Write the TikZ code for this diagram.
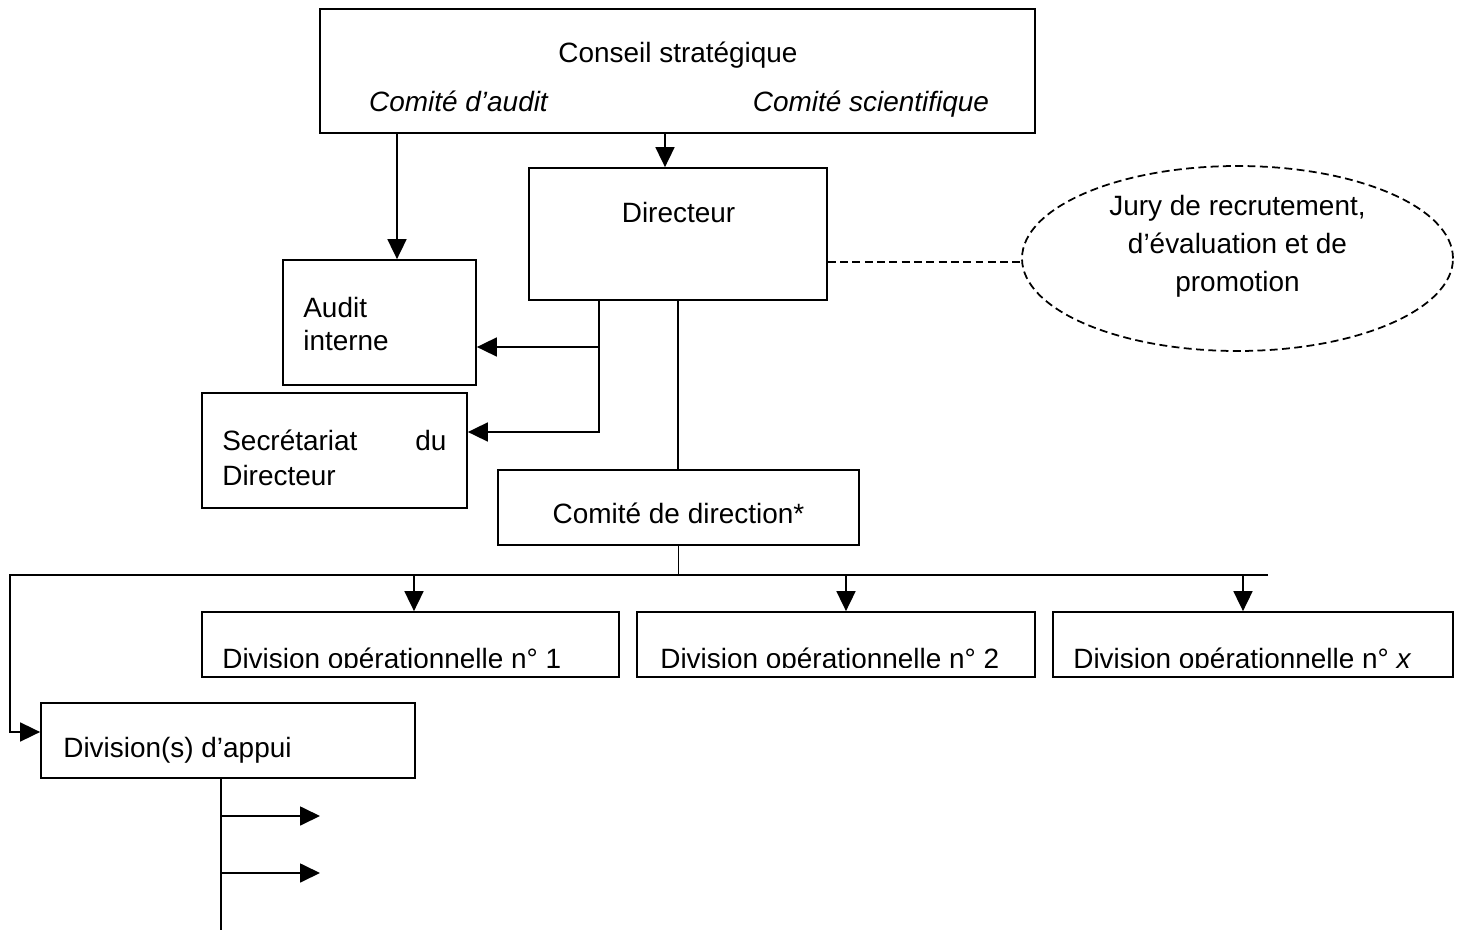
\documentclass[tikz,border=0pt]{standalone}
\usepackage{fontspec}
\setmainfont{Liberation Sans}
\usetikzlibrary{arrows.meta,positioning,shapes.geometric,calc}

\begin{document}
\begin{tikzpicture}[
        every node/.style={inner sep=0pt, font=\fontsize{15.9}{20}\selectfont},
        box/.style={draw, rectangle, line width=1pt},
        jurybox/.style={draw, ellipse, line width=1pt, dash pattern=on 4.5pt off 2.5pt},
        link/.style={line width=1pt},
        arr/.style={line width=1pt, -{Triangle[length=4mm,width=3.8mm]}}
      ]
      \useasboundingbox (0,0) rectangle (29.26,-18.62);

      % boxes
      \node[box, minimum width=14.3cm, minimum height=2.48cm] (conseil) at (13.55,-1.42) {};
      \node[box, minimum width=5.96cm, minimum height=2.64cm] (dir) at (13.56,-4.68) {};
      \node[box, minimum width=3.86cm, minimum height=2.5cm] (audit) at (7.59,-6.45) {};
      \node[box, minimum width=5.3cm, minimum height=2.3cm] (secr) at (6.69,-9.01) {};
      \node[box, minimum width=7.22cm, minimum height=1.5cm] (comite) at (13.57,-10.15) {};
      \node[box, minimum width=8.34cm, minimum height=1.3cm] (div1) at (8.21,-12.89) {};
      \node[box, minimum width=7.96cm, minimum height=1.3cm] (div2) at (16.72,-12.89) {};
      \node[box, minimum width=8cm, minimum height=1.3cm] (divx) at (25.06,-12.89) {};
      \node[box, minimum width=7.48cm, minimum height=1.5cm] (appui) at (4.56,-14.81) {};
      \node[jurybox, minimum width=8.62cm, minimum height=3.7cm] (jury) at (24.75,-5.17) {};

      % texts
      \node[anchor=base] (cstrat) at (13.56,-1.26) {Conseil stratégique};
      \node[anchor=base] (caudit) at (9.18,-2.24) {\textit{Comité d’audit}};
      \node[anchor=base] (csci) at (17.42,-2.24) {\textit{Comité scientifique}};
      \node[anchor=base] (dirtxt) at (13.57,-4.44) {Directeur};
      \node[anchor=base west] (audit1) at (6.06,-6.34) {Audit};
      \node[anchor=base west] (audit2) at (6.06,-7.0) {interne};
      \node[anchor=base west] (secr1) at (4.44,-9.0) {\makebox[4.48cm][l]{Secrétariat\hfill du}};
      \node[anchor=base west] (secr2) at (4.44,-9.7) {Directeur};
      \node[anchor=base] (comtxt) at (13.57,-10.46) {Comité de direction*};
      \node[align=center, font=\fontsize{15.9}{21.6}\selectfont] (jurytxt) at (24.75,-4.92)
        {Jury de recrutement,\\d’évaluation et de\\promotion};
      \node[anchor=base west] (appuitxt) at (1.26,-15.14) {Division(s) d’appui};
      \foreach \d/\x/\n in {div1/4.44/1, div2/13.2/2, divx/21.46/{\textit{x}}} {
        \begin{scope}
          \clip (\d.north west) rectangle ([yshift=0.2cm]\d.south east);
          \node[anchor=base west] (\d-txt) at (\x,-13.36) {Division opérationnelle n° \n};
        \end{scope}
      }

      % connectors
      \coordinate (t1) at ([xshift=0.35cm]audit.north);
      \coordinate (t2) at ([xshift=-0.26cm]dir.north);
      \coordinate (t3) at ([yshift=-0.56cm]dir.east);
      \coordinate (t4) at ([xshift=-1.58cm]dir.south);
      \coordinate (pa) at ([yshift=-0.49cm]audit.east);
      \coordinate (ps) at ([yshift=0.37cm]secr.east);
      \coordinate (bus) at ([yshift=-0.6cm]comite.south);
      \coordinate (busL) at (0.2,-11.5);
      \coordinate (busR) at (25.36,-11.5);
      \coordinate (pw) at ([yshift=0.17cm]appui.west);
      \coordinate (v0) at ([xshift=-0.14cm]appui.south);
      \coordinate (vend) at (4.42,-18.6);
      \coordinate (h1) at (6.4,-16.32);
      \coordinate (h2) at (6.4,-17.46);

      \draw[arr] (t1 |- conseil.south) -- (t1);
      \draw[arr] (t2 |- conseil.south) -- (t2);
      \draw[link, dash pattern=on 4.5pt off 2.5pt] (t3) -- (t3 -| jury.west);
      \draw[arr] (t4) |- (ps);
      \draw[arr] (t4 |- pa) -- (pa);
      \draw[link] (dir.south) -- (dir.south |- comite.north);
      \draw[link] (comite.south) -- (bus);
      \draw[arr] (busR) -- (busL) |- (pw);
      \foreach \d/\s in {div1/0.07, div2/0.2, divx/-0.2} {
        \coordinate (\d-in) at ([xshift=\s cm]\d.north);
        \draw[arr] (\d-in |- bus) -- (\d-in);
      }
      \draw[link] (v0) -- (vend);
      \draw[arr] (v0 |- h1) -- (h1);
      \draw[arr] (v0 |- h2) -- (h2);
    \end{tikzpicture}
\end{document}
